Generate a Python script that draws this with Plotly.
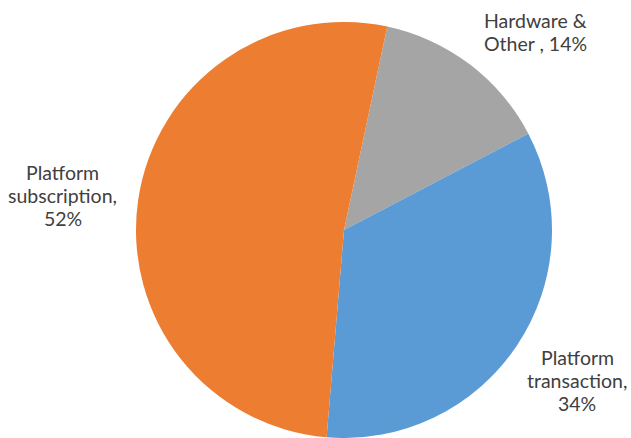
import plotly.graph_objects as go

# Revenue mix by segment
labels = ["Hardware & Other ", "Platform transaction", "Platform subscription"]
label_lines = [["Hardware &", "Other , {v}%"], ["Platform", "transaction,", "{v}%"], ["Platform", "subscription,", "{v}%"]]
shares = [14, 34, 52]
colors = ["#A5A5A5", "#5B9BD5", "#ED7D31"]

W, H = 631, 438
top = 22
plot_h = H - top
radius = plot_h / 2
cx = 344

fig = go.Figure(go.Pie(
    labels=labels,
    values=shares,
    marker=dict(colors=colors, line=dict(width=0)),
    sort=False,
    direction="clockwise",
    rotation=12,
    textinfo="none",
    hoverinfo="label+percent",
    domain=dict(x=[(cx - radius) / W, (cx + radius) / W], y=[0, 1]),
    showlegend=False,
))

# Data labels placed around the pie, one annotation per text line
# (pixel positions converted to paper coordinates of the plot area)
label_pos = [(535, 20), (577, 357), (63, 172)]
line_gap = 23
for lines, v, (x, y0) in zip(label_lines, shares, label_pos):
    for i, line in enumerate(lines):
        y = y0 + i * line_gap
        fig.add_annotation(
            x=x / W, y=1 - (y - top) / plot_h, xref="paper", yref="paper",
            text=line.format(v=v), showarrow=False, align="center",
            xanchor="center", yanchor="middle",
            font=dict(family="Lato", size=19.5, color="#404040"),
        )

fig.update_layout(
    width=W, height=H,
    margin=dict(l=0, r=0, t=top, b=0),
    paper_bgcolor="white",
    plot_bgcolor="white",
)
fig.write_html("out.html")
